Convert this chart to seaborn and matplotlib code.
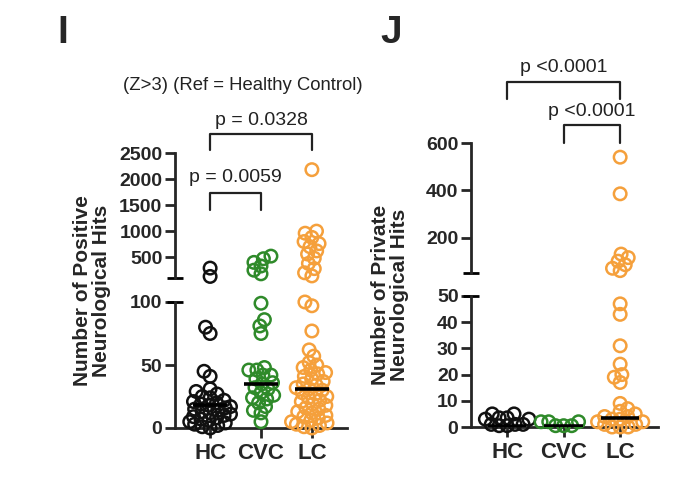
import numpy as np
import pandas as pd
import matplotlib.pyplot as plt
import matplotlib.transforms as mtransforms
from matplotlib.collections import PathCollection
import seaborn as sns

GROUPS = ["HC", "CVC", "LC"]
COLORS = {"HC": "#111111", "CVC": "#2f8a2a", "LC": "#f5a03c"}

# panel I: number of positive neurological hits (Z>3)
i_hc = [290, 130,
        80, 75, 45, 41, 31, 29, 27, 25, 24, 22, 21, 20, 19, 18, 17, 16,
        15, 14, 13, 12, 11, 10, 9, 8, 7, 6, 5, 4, 3, 2, 1, 0]
i_cvc = [520, 470, 400, 330, 250, 180,
         99, 86, 81, 75, 48, 46, 46, 42, 42, 39, 36, 35, 32, 31, 28, 26,
         24, 23, 20, 17, 14, 12, 5]
i_lc = [2180, 1000, 960, 880, 800, 760, 700, 620, 560, 480, 380, 280, 200, 140,
        100, 97, 77, 62, 57, 52, 50, 48, 46, 44, 43, 41, 39, 37, 35, 34, 32,
        31, 30, 28, 27, 25, 24, 22, 21, 19, 18, 16, 15, 13, 12, 10, 9, 8, 6,
        5, 4, 3, 2, 1, 0]
i_medians = [18, 35, 31]

# panel J: number of private neurological hits
j_hc = [5, 5, 3.5, 3.5, 3, 3, 1, 1, 1, 0.5, 0.5]
j_cvc = [2, 2, 2, 0.5, 0.5, 0.5]
j_lc = [540, 385, 130, 115, 100, 85, 70, 60,
        47, 43, 31, 24, 20, 19, 17, 9, 7, 6, 5, 4, 4, 3, 3, 2, 2, 1, 1, 0, 0, 0]
j_medians = [0.3, 0.2, 3.4]

FIG_W, FIG_H = 680, 484
LAYOUT_SIZE = 5.5   # marker size used to lay out the swarm (tighter, lets circles overlap)
MARKER_SIZE = 9


def long_df(hc, cvc, lc):
    rows = []
    for g, vals in zip(GROUPS, [hc, cvc, lc]):
        for v in vals:
            rows.append({"group": g, "value": v})
    return pd.DataFrame(rows)


def style_y(ax):
    ax.tick_params(axis="y", direction="out", length=7, width=2, labelsize=14, pad=2)
    for lab in ax.get_yticklabels():
        lab.set_fontweight("bold")
    ax.set_xlabel("")
    ax.set_ylabel("")
    for s in ["left", "bottom"]:
        ax.spines[s].set_linewidth(2)
    ax.spines[["top", "right"]].set_visible(False)


def broken_panel(fig, left, width, lo_rect, hi_rect, df, split, lo_lim, hi_lim,
                 lo_ticks, hi_ticks, medians, xlim):
    ax_lo = fig.add_axes([left, lo_rect[0], width, lo_rect[1] - lo_rect[0]])
    ax_hi = fig.add_axes([left, hi_rect[0], width, hi_rect[1] - hi_rect[0]])

    df_lo = df[df["value"] <= split]
    df_hi = df[df["value"] > split]
    sns.swarmplot(data=df_lo, x="group", y="value", hue="group", order=GROUPS,
                  hue_order=GROUPS, palette=COLORS, size=LAYOUT_SIZE,
                  legend=False, ax=ax_lo, warn_thresh=1)
    sns.swarmplot(data=df_hi, x="group", y="value", hue="group", order=GROUPS,
                  hue_order=GROUPS, palette=COLORS, size=LAYOUT_SIZE,
                  legend=False, ax=ax_hi, warn_thresh=1)

    for k, m in enumerate(medians):
        ax_lo.hlines(m, k - 0.34, k + 0.34, color="black", lw=2.6, zorder=5)

    ax_lo.set_ylim(*lo_lim)
    ax_lo.set_yticks(lo_ticks)
    ax_hi.set_ylim(*hi_lim)
    ax_hi.set_yticks(hi_ticks)
    for ax in (ax_lo, ax_hi):
        ax.set_xlim(*xlim)
        style_y(ax)

    ax_lo.tick_params(axis="x", direction="out", length=7, width=2, labelsize=16, pad=4)
    for lab in ax_lo.get_xticklabels():
        lab.set_fontweight("bold")
    ax_hi.spines["bottom"].set_visible(False)
    ax_hi.tick_params(axis="x", bottom=False, labelbottom=False)

    # break caps at the ends of the split y axis
    d = 8.0 / (FIG_W * width)
    ax_hi.plot([-d, d], [0, 0], transform=ax_hi.transAxes, color="black",
               lw=2, clip_on=False, solid_capstyle="butt")
    ax_lo.plot([-d, d], [1, 1], transform=ax_lo.transAxes, color="black",
               lw=2, clip_on=False, solid_capstyle="butt")
    return ax_lo, ax_hi


def bracket(fig, ax, x0, x1, y_top, y_leg, label, y_text, x_text):
    tr = mtransforms.blended_transform_factory(ax.transData, fig.transFigure)
    ax.plot([x0, x0, x1, x1], [y_leg, y_top, y_top, y_leg], color="#222222",
            lw=1.6, transform=tr, clip_on=False)
    ax.text(x_text, y_text, label, transform=tr, ha="center", va="center",
            fontsize=14, color="#222222")


def freeze_and_hollow(axes):
    # swarm is laid out at LAYOUT_SIZE on the first draw; then keep those
    # positions and draw bigger open circles like the prism-style original
    for ax in axes:
        for coll in ax.collections:
            if not isinstance(coll, PathCollection):
                continue
            if "draw" in coll.__dict__:
                del coll.draw
            n = len(coll.get_offsets())
            if n == 0:
                continue
            fc = coll.get_facecolor()
            coll.set_sizes([MARKER_SIZE ** 2] * n)
            coll.set_edgecolor(fc)
            coll.set_facecolor("none")
            coll.set_linewidth(1.8)
            coll.set_clip_on(False)


sns.set_style("ticks")
plt.rcParams["font.family"] = ["Liberation Sans", "DejaVu Sans"]

fig = plt.figure(figsize=(FIG_W / 100, FIG_H / 100), dpi=100)

# panel I
df_i = long_df(i_hc, i_cvc, i_lc)
ilo, ihi = broken_panel(fig, 175 / FIG_W, 172 / FIG_W,
                        (1 - 428 / FIG_H, 1 - 302 / FIG_H),
                        (1 - 278 / FIG_H, 1 - 153 / FIG_H),
                        df_i, 100, (0, 100), (100, 2500),
                        [0, 50, 100], [500, 1000, 1500, 2000, 2500],
                        i_medians, (-0.69, 2.69))
bracket(fig, ihi, 0, 2, 1 - 134 / FIG_H, 1 - 150 / FIG_H, "p = 0.0328",
        1 - 120 / FIG_H, 1)
bracket(fig, ihi, 0, 1, 1 - 193 / FIG_H, 1 - 210 / FIG_H, "p = 0.0059",
        1 - 178 / FIG_H, 0.5)
fig.text(243 / FIG_W, 1 - 85 / FIG_H, "(Z>3) (Ref = Healthy Control)",
         ha="center", va="center", fontsize=13.3, color="#222222")
fig.text(92 / FIG_W, 1 - 291 / FIG_H, "Number of Positive\nNeurological Hits",
         rotation=90, ha="center", va="center", fontsize=15, fontweight="bold",
         multialignment="center", linespacing=1.0)
fig.text(57 / FIG_W, 1 - 15 / FIG_H, "I", ha="left", va="top",
         fontsize=28, fontweight="bold")

# panel J
df_j = long_df(j_hc, j_cvc, j_lc)
jlo, jhi = broken_panel(fig, 471 / FIG_W, 187 / FIG_W,
                        (1 - 427 / FIG_H, 1 - 296 / FIG_H),
                        (1 - 273 / FIG_H, 1 - 143 / FIG_H),
                        df_j, 50, (0, 50), (50, 600),
                        [0, 10, 20, 30, 40, 50], [200, 400, 600],
                        j_medians, (-0.64, 2.67))
bracket(fig, jhi, 0, 2, 1 - 82 / FIG_H, 1 - 99 / FIG_H, "p <0.0001",
        1 - 68 / FIG_H, 1)
bracket(fig, jhi, 1, 2, 1 - 125 / FIG_H, 1 - 143 / FIG_H, "p <0.0001",
        1 - 111 / FIG_H, 1.5)
fig.text(390 / FIG_W, 1 - 295 / FIG_H, "Number of Private\nNeurological Hits",
         rotation=90, ha="center", va="center", fontsize=15, fontweight="bold",
         multialignment="center", linespacing=1.0)
fig.text(380 / FIG_W, 1 - 15 / FIG_H, "J", ha="left", va="top",
         fontsize=28, fontweight="bold")

fig.canvas.draw()
freeze_and_hollow([ilo, ihi, jlo, jhi])

fig.savefig("out.png", dpi=100, facecolor="white")
